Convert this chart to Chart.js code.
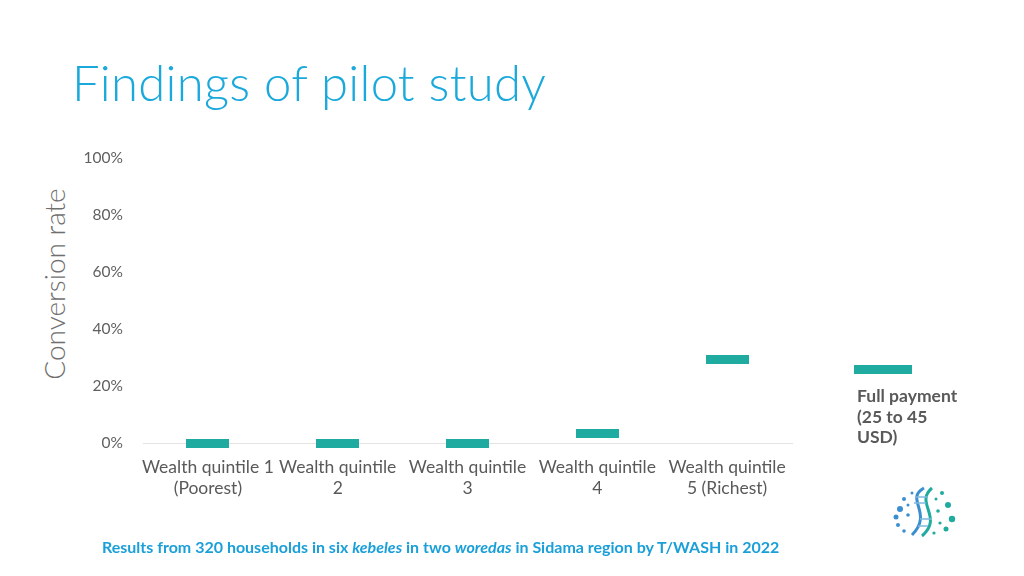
<!DOCTYPE html>
<html lang="en">
<head>
  <meta charset="UTF-8">
  <title>Findings of pilot study</title>
  <script src="https://cdn.jsdelivr.net/npm/chart.js"></script>
  <style>
    html, body { margin: 0; padding: 0; background: #fff; }
    #page { position: relative; width: 1024px; height: 576px; overflow: hidden; font-family: Lato, "Open Sans", sans-serif; }
    #chart { position: absolute; left: 0; top: 0; }
    h1 { position: absolute; left: 72px; top: 53px; margin: 0; font-weight: 300; font-size: 49px; color: #1ba9dc; letter-spacing: 0.3px; }
    .ytitle { position: absolute; left: 54px; top: 284px; transform: translate(-50%, -50%) rotate(-90deg); white-space: nowrap; font-weight: 300; font-size: 28px; color: #6f6f6f; }
    .legend { position: absolute; left: 854px; top: 365px; }
    .legend .mark { width: 58px; height: 9px; background: #1fab9f; }
    .legend .txt { margin: 12px 0 0 3px; font-weight: 700; font-size: 17.5px; line-height: 20.5px; color: #595959; }
    .note { position: absolute; left: 102px; top: 537px; font-weight: 700; font-size: 16px; color: #1a9fd9; }
    .logo { position: absolute; left: 890px; top: 485px; }
  </style>
</head>
<body>
<div id="page">
  <h1>Findings of pilot study</h1>
  <div class="ytitle">Conversion rate</div>
  <canvas id="chart" width="1024" height="576"></canvas>

  <div class="legend">
    <div class="mark"></div>
    <div class="txt">Full payment<br>(25 to 45<br>USD)</div>
  </div>

  <div class="note">Results from 320 households in six <i>kebeles</i> in two <i>woredas</i> in Sidama region by T/WASH in 2022</div>

  <!-- rough dna logo -->
  <svg class="logo" width="66" height="54" viewBox="0 0 66 54">
    <path d="M34 3 C 14 14, 44 28, 22 50" stroke="#3a8fd0" stroke-width="3" fill="none"/>
    <path d="M42 3 C 24 18, 54 32, 32 51" stroke="#1fab9f" stroke-width="3" fill="none"/>
    <g stroke="#7fb8df" stroke-width="1.5">
      <line x1="26" y1="12" x2="38" y2="12"/><line x1="24" y1="18" x2="36" y2="18"/>
      <line x1="30" y1="34" x2="42" y2="34"/><line x1="28" y1="41" x2="38" y2="41"/>
    </g>
    <g fill="#3a8fd0">
      <circle cx="10" cy="24" r="3"/><circle cx="6" cy="32" r="2.5"/><circle cx="14" cy="14" r="2"/>
      <circle cx="8" cy="40" r="2"/><circle cx="18" cy="30" r="1.8"/><circle cx="22" cy="8" r="1.5"/>
      <circle cx="18" cy="20" r="1.5"/><circle cx="14" cy="46" r="1.8"/>
    </g>
    <g fill="#1fab9f">
      <circle cx="58" cy="20" r="3"/><circle cx="62" cy="34" r="3.2"/><circle cx="52" cy="8" r="2"/>
      <circle cx="56" cy="44" r="2.5"/><circle cx="48" cy="26" r="1.8"/><circle cx="46" cy="14" r="1.5"/>
      <circle cx="50" cy="38" r="1.6"/><circle cx="44" cy="48" r="1.6"/>
    </g>
  </svg>
</div>

<script>
  // data
  const categories = [
    ['Wealth quintile 1', '(Poorest)'],
    ['Wealth quintile', '2'],
    ['Wealth quintile', '3'],
    ['Wealth quintile', '4'],
    ['Wealth quintile', '5 (Richest)']
  ];
  const fullPayment = [0, 0, 0, 3.4, 29.4];
  const yTicks = [0, 20, 40, 60, 80, 100];

  const teal = '#1fab9f';

  // flat dash used as point marker
  const dash = document.createElement('canvas');
  dash.width = 43;
  dash.height = 9;
  const dctx = dash.getContext('2d');
  dctx.fillStyle = teal;
  dctx.fillRect(0, 0, 43, 9);

  const ctx = document.getElementById('chart').getContext('2d');
  new Chart(ctx, {
    type: 'line',
    data: {
      labels: categories,
      datasets: [{
        label: 'Full payment (25 to 45 USD)',
        data: fullPayment,
        showLine: false,
        clip: false,
        pointStyle: dash,
        pointRadius: 5,
        borderColor: teal,
        backgroundColor: teal
      }]
    },
    options: {
      responsive: false,
      animation: false,
      layout: { padding: { left: 36, right: 232, top: 158, bottom: 60 } },
      plugins: { legend: { display: false }, tooltip: { enabled: false } },
      scales: {
        x: {
          offset: true,
          grid: { display: false },
          border: { display: true, color: '#e3e3e3', width: 1 },
          ticks: {
            color: '#595959',
            font: { family: 'Lato', size: 17.5 },
            padding: 6,
            maxRotation: 0,
            autoSkip: false
          },
          afterFit: s => { s.height = 73; }
        },
        y: {
          min: 0,
          max: 100,
          afterBuildTicks: s => { s.ticks = yTicks.map(v => ({ value: v })); },
          grid: { display: false },
          border: { display: false },
          ticks: {
            color: '#5f5f5f',
            font: { family: 'Lato', size: 15.5 },
            padding: 12,
            callback: v => v + '%'
          },
          afterFit: s => { s.width = 107; }
        }
      }
    }
  });
</script>
</body>
</html>
